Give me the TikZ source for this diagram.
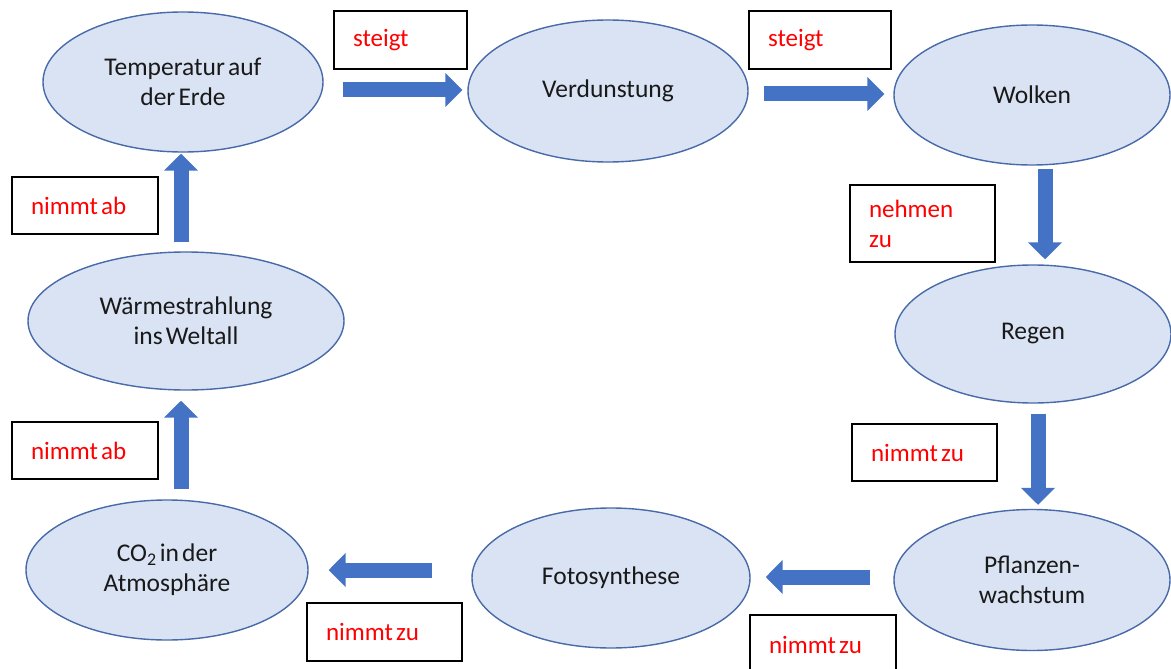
\documentclass[tikz,border=0pt]{standalone}
\usepackage{fontspec}
\setmainfont{Carlito}[WordSpace=0.55]
\usetikzlibrary{arrows.meta,shapes.geometric}
\definecolor{ellfill}{RGB}{218,227,243}
\definecolor{elldraw}{RGB}{72,106,168}
\definecolor{arrblue}{RGB}{68,114,196}
\definecolor{txtdark}{RGB}{25,25,25}
\tikzset{
  x=1pt, y=-1pt,
  state/.style={ellipse, draw=elldraw, fill=ellfill, line width=1.4pt, inner sep=0pt,
    align=center, text=txtdark, font=\fontsize{25.5}{30}\selectfont},
  lbl/.style={rectangle, draw=black, line width=1.6pt, fill=white, inner xsep=19pt, inner ysep=0pt,
    align=left, text=red, font=\fontsize{25}{30}\selectfont,
    execute at begin node={\spaceskip=0.13em plus 0.02em\relax}},
  blk/.style={draw=arrblue, line width=15pt, -{Triangle[length=17pt,width=33pt]}, arrblue},
}
\begin{document}
\begin{tikzpicture}
\useasboundingbox (0,0) rectangle (1171,669);
\clip (0,0) rectangle (1171,669);
% states
\node[state, minimum width=280pt, minimum height=140pt] (temp) at (183,82) {Temperatur auf\\der Erde};
\node[state, minimum width=280pt, minimum height=142pt] (verd) at (608,91) {Verdunstung};
\node[state, minimum width=276pt, minimum height=140pt] (wolk) at (1032,95) {Wolken};
\node[state, minimum width=276pt, minimum height=138pt] (regen) at (1033,334) {Regen};
\node[state, minimum width=276pt, minimum height=141pt] (pfl) at (1032,580) {Pflanzen-\\wachstum};
\node[state, minimum width=278pt, minimum height=140pt] (foto) at (611,578) {Fotosynthese};
\node[state, minimum width=282pt, minimum height=140pt] (co2) at (167,570) {CO\textsubscript{2} in der\\Atmosphäre};
\node[state, minimum width=316pt, minimum height=138pt] (waerme) at (186,321) {Wärmestrahlung\\ins Weltall};
% labels
\node[lbl, text width=95pt, minimum height=58pt] (l1) at (400.5,40) {steigt};
\node[lbl, text width=104pt, minimum height=58pt] (l2) at (820,40) {steigt};
\node[lbl, text width=107pt, minimum height=77pt] (l3) at (922.5,223.5) {nehmen\\zu};
\node[lbl, text width=107pt, minimum height=57pt] (l4) at (924.5,452.5) {nimmt zu};
\node[lbl, text width=108pt, minimum height=60pt] (l5) at (823,645) {nimmt zu};
\node[lbl, text width=117pt, minimum height=58pt] (l6) at (384.5,632) {nimmt zu};
\node[lbl, text width=108pt, minimum height=57pt] (l7) at (85,205.5) {nimmt ab};
\node[lbl, text width=108pt, minimum height=57pt] (l8) at (85,450.5) {nimmt ab};
% block arrows
\draw[blk] ([shift={(19,8)}]temp.east) -- ([shift={(-5,-1)}]verd.west);
\draw[blk] ([shift={(15,3)}]verd.east) -- ([shift={(-9,-1)}]wolk.west);
\draw[blk] ([shift={(13,3)}]wolk.south) -- ([shift={(12,-5)}]regen.north);
\draw[blk] ([shift={(5,10)}]regen.south) -- ([shift={(6,-4)}]pfl.north);
\draw[blk] ([shift={(-23,-3)}]pfl.west) -- ([shift={(15,-1)}]foto.east);
\draw[blk] ([shift={(-39,-8)}]foto.west) -- ([shift={(20,0)}]co2.east);
\draw[blk] ([shift={(14,-10)}]co2.north) -- ([shift={(-5,10)}]waerme.south);
\draw[blk] ([shift={(-5,-9)}]waerme.north) -- ([shift={(-2,1)}]temp.south);
\end{tikzpicture}
\end{document}
